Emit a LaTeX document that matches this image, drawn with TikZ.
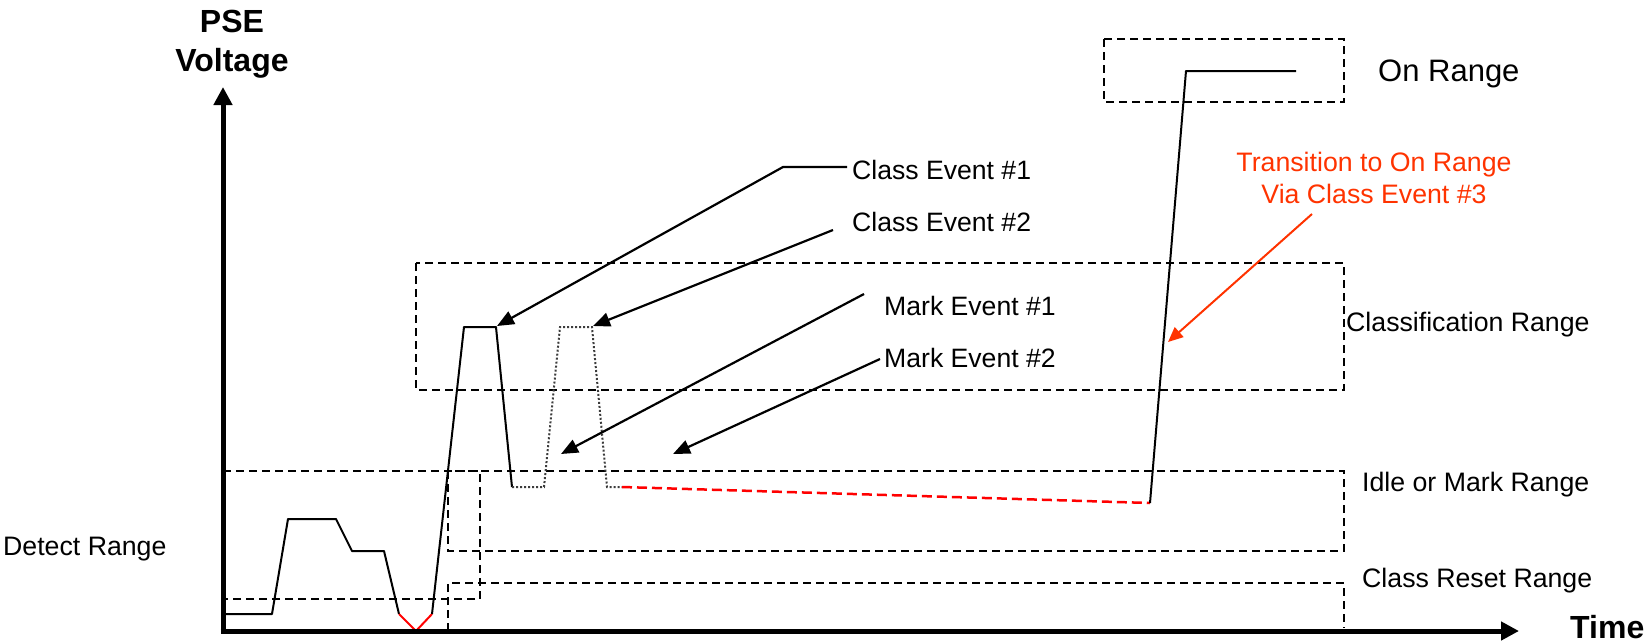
\documentclass[tikz,border=0pt]{standalone}
\usepackage{fontspec}
\setmainfont{Liberation Sans}
\usetikzlibrary{arrows.meta}
\definecolor{annot}{RGB}{255,51,0}
\definecolor{dotgray}{RGB}{60,60,60}
\tikzset{
  rangebox/.style={draw=black, line width=2pt, dash pattern=on 8pt off 5pt},
  axisline/.style={draw=black, line width=5pt, -{Triangle[length=18pt,width=18pt]}},
  wave/.style={draw=black, line width=2pt, line join=round},
  wavedot/.style={draw=dotgray, line width=2pt, dash pattern=on 2pt off 2pt},
  waveredv/.style={draw=red, line width=2pt, line join=miter},
  wavereddash/.style={draw=red, line width=2.5pt, dash pattern=on 10pt off 5pt},
  leader/.style={draw=black, line width=2.2pt, line join=round, -{Triangle[length=17pt,width=14pt]}},
  redleader/.style={draw=annot, line width=2pt, -{Triangle[length=15pt,width=13pt]}},
  rangelbl/.style={inner sep=0pt, anchor=base west, font=\fontsize{26.7}{32}\selectfont},
  eventlbl/.style={inner sep=0pt, anchor=base west, font=\fontsize{26.6}{32}\selectfont},
  axislbl/.style={inner sep=0pt, font=\bfseries\fontsize{32}{38}\selectfont},
  annotlbl/.style={inner sep=0pt, anchor=base, text=annot, font=\fontsize{26.7}{32}\selectfont}
}
\begin{document}
\begin{tikzpicture}[x=1pt,y=-1pt]
\useasboundingbox (0,0) rectangle (1650,643);

% range boxes
\draw[rangebox] (223,471) -- (480,471) -- (480,599) -- (223,599);
\draw[rangebox] (448,471) rectangle (1344,551);
\draw[rangebox] (448,631) -- (448,583) -- (1344,583) -- (1344,628);
\draw[rangebox] (416,263) rectangle (1344,390);
\draw[rangebox] (1104,39) rectangle (1344,102);

% waveform
\draw[wave] (225,614) -- (272,614) -- (288,519) -- (336,519) -- (352,551) -- (384,551) -- (399,614);
\draw[waveredv] (399,614) -- (416,631) -- (432,614);
\draw[wave] (432,614) -- (464,327) -- (496,327) -- (512,487);
\draw[wavedot] (512,487) -- (544,487) -- (560,327) -- (592,327) -- (607,487) -- (622,487);
\draw[wavereddash] (622,487) -- (1150,503);
\draw[wave] (1150,503) -- (1186,71) -- (1296,71);

% axes
\draw[axisline] (223,633.5) -- (223,87);
\draw[axisline] (220.5,631) -- (1519,631);

% axis labels
\node[axislbl, anchor=base] (pse) at (232,32) {PSE};
\node[axislbl, anchor=base] (volt) at (232,71) {Voltage};
\node[axislbl, anchor=base west] (time) at (1570,638) {Time};

% range labels
\node[rangelbl, font=\fontsize{31}{37}\selectfont] (onr) at (1378,81) {On Range};
\node[rangelbl] (clsr) at (1346,331) {Classification Range};
\node[rangelbl] (idler) at (1362,491) {Idle or Mark Range};
\node[rangelbl] (resetr) at (1362,587) {Class Reset Range};
\node[rangelbl] (detr) at (3,555) {Detect Range};

% event labels
\node[eventlbl] (ce1) at (852,179) {Class Event \#1};
\node[eventlbl] (ce2) at (852,231) {Class Event \#2};
\node[eventlbl] (me1) at (884,315) {Mark Event \#1};
\node[eventlbl] (me2) at (884,367) {Mark Event \#2};

% annotation
\node[annotlbl] (tr1) at (1374,171) {Transition to On Range};
\node[annotlbl] (tr2) at (1374,203) {Via Class Event \#3};

% arrow targets
\coordinate (tce1) at (497,326);
\coordinate (tce2) at (593,326);
\coordinate (tme1) at (561,454);
\coordinate (tme2) at (673,454);
\coordinate (ttr) at (1168,342);
\coordinate (str) at (1312,214);

% leaders
\draw[leader] (847,167) -- (783,167) -- (tce1);
\draw[leader] (833,230) -- (tce2);
\draw[leader] (864,294) -- (tme1);
\draw[leader] (880,359) -- (tme2);
\draw[redleader] (str) -- (ttr);
\end{tikzpicture}
\end{document}
